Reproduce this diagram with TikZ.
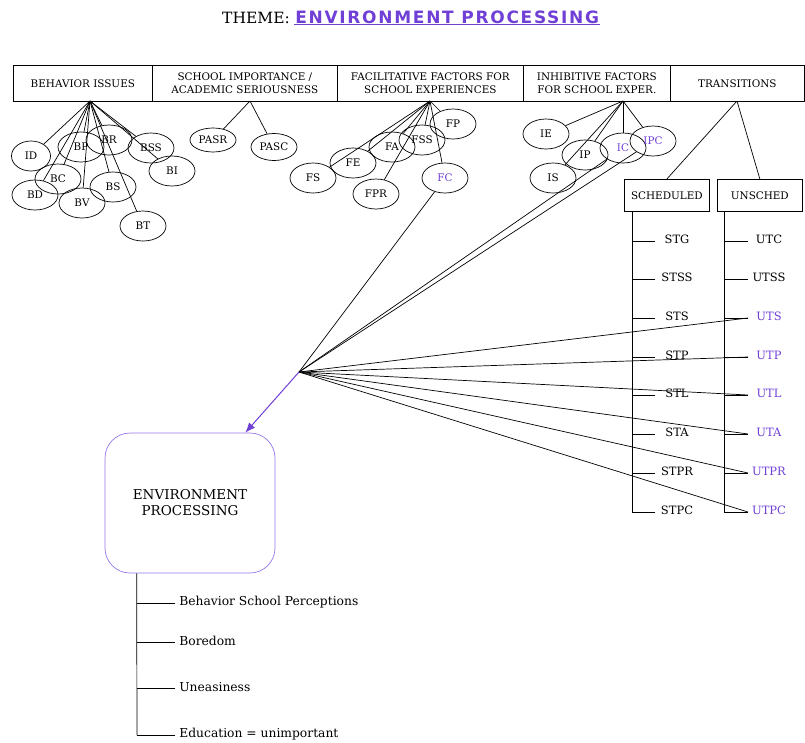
\documentclass[tikz,border=0pt]{standalone}
\usepackage{fontspec}
\setmainfont{DejaVu Serif}
\usetikzlibrary{shapes.geometric,arrows.meta}
\newfontfamily\themefont[LetterSpace=10]{DejaVu Sans}
\definecolor{themepurple}{RGB}{112,64,214}
\definecolor{boxpurple}{RGB}{150,118,232}

\begin{document}
\begin{tikzpicture}[x=1pt,y=-1pt,%
					line width=.7pt,%
					every node/.style={font=\fontsize{10.4}{12.5}\selectfont},%
					hdr/.style={draw,minimum height=36pt,inner sep=1pt,align=center,anchor=north west},%
					oval/.style={draw,ellipse,minimum width=46pt,minimum height=30pt,inner sep=0pt},%
					item/.style={font=\fontsize{11.5}{13}\selectfont}]
\useasboundingbox (0,0) rectangle (805,742);

% title
\node (theme) at (256,18) {\fontsize{15.5}{17}\selectfont THEME:};
\node [anchor=west,text=themepurple,inner sep=1pt] (title) at (294,17) {\themefont\bfseries\fontsize{17}{19}\selectfont ENVIRONMENT PROCESSING};
\draw [themepurple,line width=1pt] (title.south west) -- (title.south east);

% header row
\foreach \a\b\c\d in {behav/13/139/{BEHAVIOR ISSUES},school/152/185/{SCHOOL IMPORTANCE /\\ACADEMIC SERIOUSNESS},facil/337/186/{FACILITATIVE FACTORS FOR\\SCHOOL EXPERIENCES},inhib/523/147/{INHIBITIVE FACTORS\\FOR SCHOOL EXPER.},trans/670/134/{TRANSITIONS}}
	\node [hdr,minimum width=\c pt] (\a) at (\b,65) {\d};

\coordinate (bhub) at (90,101);
\coordinate (shub) at (250,101);
\coordinate (fhub) at (430,101);
\coordinate (ihub) at (623,101);
\coordinate (thub) at (737,101);

% ovals
\foreach \a\b\c\d in {BP/81/147/black,BR/109/140/black,BSS/151/148/black,BI/172/171/black,BC/58/179/black,BD/35/195/black,BV/82/203/black,BS/113/187/black,BT/143/226/black,%
		FP/453/124/black,FSS/422/140/black,FA/392/147/black,FE/353/163/black,FS/313/178/black,FPR/376/194/black,FC/445/178/themepurple,%
		IE/546/134/black,IP/585/155/black,IC/623/148/themepurple,IPC/653/141/themepurple,IS/553/178/black}
	\node [oval,text=\d] (\a) at (\b,\c) {\a};
\node [oval,minimum width=39pt] (ID) at (31,156) {ID};
\node [oval,minimum height=24pt] (PASR) at (213,140) {PASR};
\node [oval,minimum height=27pt] (PASC) at (274,147) {PASC};

\foreach \to in {ID,BP,BR,BSS,BI,BC,BD,BV,BS,BT}
	\draw (bhub) -- (\to);
\foreach \to in {PASR,PASC}
	\draw (shub) -- (\to);
\foreach \to in {FP,FSS,FA,FE,FS,FPR,FC}
	\draw (fhub) -- (\to);
\foreach \to in {IE,IP,IC,IPC,IS}
	\draw (ihub) -- (\to);

% transitions
\node [hdr,minimum width=85pt,minimum height=32pt,inner sep=0pt] (sched) at (624,179) {\raisebox{-8pt}{SCHEDULED}};
\node [hdr,minimum width=85pt,minimum height=32pt,inner sep=0pt] (unsched) at (717,179) {\raisebox{-8pt}{UNSCHED}};
\draw (thub) -- (sched.north);
\draw (thub) -- (unsched.north);

\draw (632,211) -- (632,512);
\draw (724,211) -- (724,512);
\foreach \a\b\c in {STG/UTC/241,STSS/UTSS/279,STS/UTS/318,STP/UTP/357,STL/UTL/395,STA/UTA/434,STPR/UTPR/473,STPC/UTPC/512}
{
	\draw (632,\c) -- (655,\c);
	\node [item] (\a) at (677,\c-2) {\a};
	\draw (724,\c) -- (748,\c);
	\coordinate (t\b) at (748,\c);
}
\foreach \a\b\c in {UTC/241/black,UTSS/279/black,UTS/318/themepurple,UTP/357/themepurple,UTL/395/themepurple,UTA/434/themepurple,UTPR/473/themepurple,UTPC/512/themepurple}
	\node [item,text=\c] (\a) at (769,\b-2) {\a};

% links into the processing node
\coordinate (conv) at (299,372);
\draw (conv) -- (FC);
\draw (conv) -- (IC);
\draw (conv) -- (IPC);
\foreach \to in {UTS,UTP,UTL,UTA,UTPR,UTPC}
	\draw (conv) -- (t\to);

\node [draw=boxpurple,rounded corners=25pt,minimum width=170pt,minimum height=140pt,align=center,font=\fontsize{13.5}{16}\selectfont] (ep) at (190,503) {ENVIRONMENT\\PROCESSING};
\draw [-{Latex[length=10pt,width=8pt]},themepurple,line width=1pt] (conv) -- ([xshift=-30pt]ep.north east);

% sub topics
\draw ([xshift=32pt]ep.south west) -- (137,735);
\foreach \a\b\c in {bsp/603/{Behavior School Perceptions},bored/642/{Boredom},uneasy/688/{Uneasiness},edu/735/{Education = unimportant}}
{
	\draw (137,\b) -- (175,\b);
	\node [anchor=west,inner sep=2pt,font=\fontsize{12.3}{14}\selectfont] (\a) at (177,\b-1) {\c};
}
\end{tikzpicture}
\end{document}
